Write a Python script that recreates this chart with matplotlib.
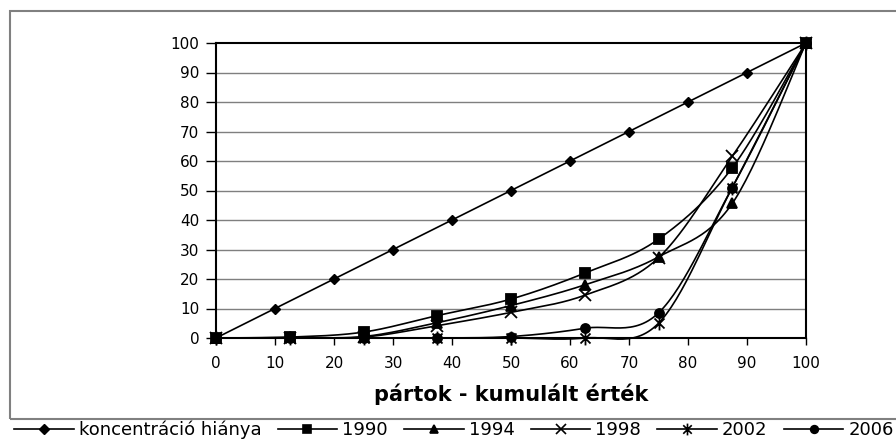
import numpy as np
import matplotlib
matplotlib.use("Agg")
import matplotlib.pyplot as plt
from matplotlib.path import Path
from matplotlib.patches import Rectangle

plt.rcParams['font.family'] = ['DejaVu Sans']

# ---- data ----
conc_x = [0, 10, 20, 30, 40, 50, 60, 70, 80, 90, 100]
conc_y = [0, 10, 20, 30, 40, 50, 60, 70, 80, 90, 100]
party_x = [0, 12.5, 25, 37.5, 50, 62.5, 75, 87.5, 100]
s1990 = [0, 0.3, 2.0, 7.6, 13.2, 22.0, 33.5, 57.7, 100]
s1994 = [0, 0.2, 0.5, 5.2, 11.0, 18.0, 27.5, 45.6, 100]
s1998 = [0, 0.1, 0.3, 4.2, 8.7, 14.5, 27.2, 61.6, 100]
s2002 = [0, 0, 0, 0, 0, 0, 5.0, 51.0, 100]
s2006 = [0, 0, 0, 0, 0.5, 3.3, 8.5, 51.0, 100]
labels = ['koncentráció hiánya', '1990', '1994', '1998', '2002', '2006']
xticks = [0, 10, 20, 30, 40, 50, 60, 70, 80, 90, 100]
yticks = [0, 10, 20, 30, 40, 50, 60, 70, 80, 90, 100]
xlabel = 'pártok - kumulált érték'


def smooth(x, y, n=30):
    x = np.asarray(x, float)
    y = np.asarray(y, float)
    P = np.column_stack([x, y])
    m = len(P)
    out = [P[0]]
    t = np.linspace(0, 1, n)[1:]
    for i in range(m - 1):
        p0 = P[i - 1] if i > 0 else P[i]
        p1 = P[i]
        p2 = P[i + 1]
        p3 = P[i + 2] if i + 2 < m else P[i + 1]
        c1 = p1 + (p2 - p0) / 6.0
        c2 = p2 - (p3 - p1) / 6.0
        for tt in t:
            b = ((1 - tt) ** 3) * p1 + 3 * ((1 - tt) ** 2) * tt * c1 + 3 * (1 - tt) * tt ** 2 * c2 + tt ** 3 * p2
            out.append(b)
    out = np.array(out)
    return out[:, 0], out[:, 1]


star = Path([(0, -1), (0, 1), (-0.72, -0.72), (0.72, 0.72), (-0.72, 0.72), (0.72, -0.72)],
            [Path.MOVETO, Path.LINETO, Path.MOVETO, Path.LINETO, Path.MOVETO, Path.LINETO])

W, H = 896, 441
fig = plt.figure(figsize=(W / 100, H / 100), dpi=100)

# outer chart border
fig.patches.append(Rectangle((10 / W, 1 - 419 / H), 2.0, (419 - 11) / H,
                             transform=fig.transFigure, fill=False,
                             edgecolor='#808080', linewidth=1.5))

ax = fig.add_axes([216 / W, 1 - 338 / H, (806 - 216) / W, (338 - 43) / H])
ax.set_xlim(0, 100)
ax.set_ylim(0, 100)

for yv in yticks[1:-1]:
    ax.axhline(yv, color='#7f7f7f', linewidth=1.0, zorder=1)

lw = 1.2
h_conc, = ax.plot(conc_x, conc_y, color='black', lw=lw, marker='D', ms=5.5,
                  clip_on=False, zorder=3)

series = [(s1990, 's', 6.5), (s1994, '^', 7), (s1998, 'x', 8), (s2002, star, 10), (s2006, 'o', 6.5)]
handles = [h_conc]
for ys, mk, ms in series:
    sx, sy = smooth(party_x, ys)
    ax.plot(sx, sy, color='black', lw=lw, zorder=3, clip_on=False)
    ax.plot(party_x, ys, linestyle='none', marker=mk, ms=ms, color='black',
            mec='black', mew=1.3, clip_on=False, zorder=4)
    h, = ax.plot([], [], color='black', lw=lw, marker=mk, ms=ms * 0.85, mec='black', mew=1.2)
    handles.append(h)

for sp in ax.spines.values():
    sp.set_color('black')
    sp.set_linewidth(1.5)

ax.set_xticks(xticks)
ax.set_yticks(yticks)
ax.tick_params(axis='both', direction='out', length=7, width=1.0, labelsize=11, pad=5)
ax.tick_params(axis='x', length=5, pad=8)
ax.set_xlabel(xlabel, fontsize=15, fontweight='bold', labelpad=9)

fig.legend(handles, labels, loc='center left', bbox_to_anchor=(14 / W, 11 / H),
           ncol=6, frameon=False, fontsize=13, borderpad=0, borderaxespad=0,
           handlelength=3.3, handletextpad=0.28, columnspacing=0.9, numpoints=1)

fig.savefig('out.png', dpi=100)
